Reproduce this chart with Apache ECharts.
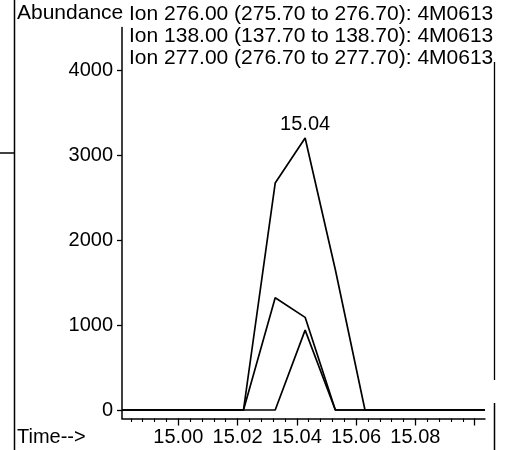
<!DOCTYPE html>
<html>
<head>
<meta charset="utf-8">
<script src="https://cdn.jsdelivr.net/npm/echarts@6/dist/echarts.min.js"></script>
<style>html,body{margin:0;padding:0;background:#fff}#c{width:512px;height:450px}</style>
</head>
<body>
<div id="c"></div>
<script>
// Scan times (min)
const times = [14.981, 14.992, 15.002, 15.012, 15.022, 15.0327, 15.0428, 15.053, 15.063, 15.073, 15.083, 15.093, 15.1035];
// Abundances
const ion276 = [0, 0, 0, 0, 0, 2670, 3200, 1650, 0, 0, 0, 0, 0];
const ion138 = [0, 0, 0, 0, 0, 1320, 1090, 0, 0, 0, 0, 0, 0];
const ion277 = [0, 0, 0, 0, 0, 0, 940, 0, 0, 0, 0, 0, 0];
const seriesNames = [
  'Ion 276.00 (275.70 to 276.70): 4M0613',
  'Ion 138.00 (137.70 to 138.70): 4M0613',
  'Ion 277.00 (276.70 to 277.70): 4M0613'
];
const yTicks = [0, 1000, 2000, 3000, 4000];
const xTicks = [15.00, 15.02, 15.04, 15.06, 15.08, 15.10];
const xLabels = [15.00, 15.02, 15.04, 15.06, 15.08];
const xMinorTicks = [14.984, 14.988, 14.992, 14.996, 15.004, 15.008, 15.012, 15.016, 15.024, 15.028, 15.032, 15.036,
  15.044, 15.048, 15.052, 15.056, 15.064, 15.068, 15.072, 15.076, 15.084, 15.088, 15.092, 15.096];

const FONT = 'Liberation Sans, Arial, sans-serif';
const peakIdx = ion276.indexOf(Math.max(...ion276));

function mk(vals, withPeak) {
  return times.map((t, i) => {
    if (withPeak && i === peakIdx) {
      return {
        value: [t, vals[i]],
        label: {
          show: true, position: 'top', distance: 4,
          formatter: p => p.value[0].toFixed(2),
          fontSize: 20, color: '#000', fontFamily: FONT
        }
      };
    }
    return [t, vals[i]];
  });
}

const lineStyle = { color: '#000', width: 1.7 };
const chart = echarts.init(document.getElementById('c'));
chart.setOption({
  animation: false,
  backgroundColor: '#fff',
  grid: { left: 122, right: 27, top: 27.5, bottom: 31.5, containLabel: false },
  xAxis: [{
    type: 'value', min: 14.981, max: 15.1035,
    axisLine: { show: true, onZero: false, lineStyle: { color: '#000', width: 1.5 } },
    axisTick: { show: true, customValues: xTicks, length: 7, lineStyle: { color: '#000', width: 1.3 } },
    axisLabel: { customValues: xLabels, formatter: v => v.toFixed(2), fontSize: 20, color: '#000', fontFamily: FONT, margin: 9 },
    splitLine: { show: false }
  }, {
    type: 'value', min: 14.981, max: 15.1035, position: 'bottom',
    axisLine: { show: false, onZero: false },
    axisTick: { show: true, customValues: xMinorTicks, length: 3.5, lineStyle: { color: '#000', width: 1.1 } },
    axisLabel: { show: false },
    splitLine: { show: false }
  }],
  yAxis: {
    type: 'value', min: -100, max: 4500,
    axisLine: { show: true, onZero: false, lineStyle: { color: '#000', width: 1.5 } },
    axisTick: { show: true, customValues: yTicks, length: 5, lineStyle: { color: '#000', width: 1.3 } },
    axisLabel: { customValues: yTicks, formatter: v => String(v), fontSize: 20, color: '#000', fontFamily: FONT, margin: 9 },
    splitLine: { show: false }
  },
  series: [
    { name: seriesNames[0], type: 'line', data: mk(ion276, true), symbol: 'circle', symbolSize: 0, showSymbol: true, lineStyle: lineStyle, itemStyle: { color: '#000' } },
    { name: seriesNames[1], type: 'line', data: mk(ion138, false), symbol: 'none', lineStyle: lineStyle, itemStyle: { color: '#000' } },
    { name: seriesNames[2], type: 'line', data: mk(ion277, false), symbol: 'none', lineStyle: lineStyle, itemStyle: { color: '#000' } }
  ],
  graphic: [
    { type: 'text', left: 17, top: 3, style: { text: 'Abundance', font: '21px ' + FONT, fill: '#000' } },
    { type: 'text', left: 129, top: 3, style: { text: seriesNames.join('\n'), font: '21px ' + FONT, lineHeight: 22, fill: '#000' } },
    { type: 'text', left: 17, top: 427, style: { text: 'Time-->', font: '20px ' + FONT, fill: '#000' } },
    { type: 'line', shape: { x1: 14.5, y1: 0, x2: 14.5, y2: 450 }, style: { stroke: '#000', lineWidth: 1.5 } },
    { type: 'line', shape: { x1: 0, y1: 153, x2: 14, y2: 153 }, style: { stroke: '#000', lineWidth: 1.5 } },
    { type: 'line', shape: { x1: 494.5, y1: 62, x2: 494.5, y2: 380 }, style: { stroke: '#000', lineWidth: 1.3 } },
    { type: 'line', shape: { x1: 494.5, y1: 403, x2: 494.5, y2: 450 }, style: { stroke: '#000', lineWidth: 1.5 } }
  ]
});
</script>
</body>
</html>
